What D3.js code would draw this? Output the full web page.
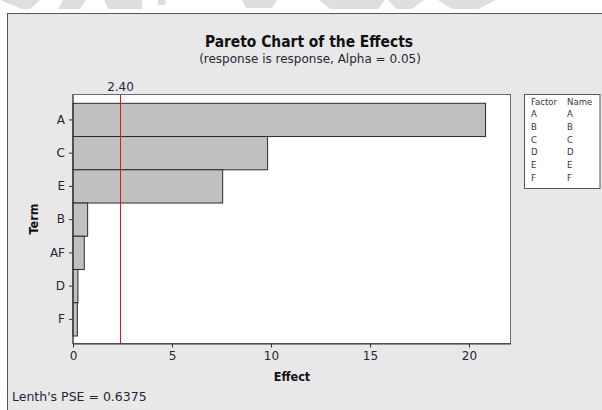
<!DOCTYPE html>
<html>
<head>
<meta charset="utf-8">
<script src="https://cdn.jsdelivr.net/npm/d3@7"></script>
<style>
  html, body { margin: 0; padding: 0; background: #ffffff; }
  svg { display: block; }
</style>
</head>
<body>
<svg id="chart" width="602" height="410" font-family="DejaVu Sans, sans-serif"></svg>
<script>
// Standardized effects, ordered by magnitude
const terms = ["A", "C", "E", "B", "AF", "D", "F"];
const effects = [20.84, 9.83, 7.56, 0.74, 0.57, 0.25, 0.22];
const xTicks = [0, 5, 10, 15, 20];
const criticalValue = 2.40;
const factors = ["A", "B", "C", "D", "E", "F"];
const factorNames = ["A", "B", "C", "D", "E", "F"];
const lenthPSE = "0.6375";

const svg = d3.select("#chart");
const textColor = "#2a2438";
const bodyFont = "DejaVu Sans, sans-serif";
const narrowFont = "DejaVu Sans Condensed, sans-serif";

// faint banner strip along the very top
const banner = svg.append("g").attr("fill", "#dedede");
[[0, 0, 40, 0, 30, 9, 22, 9], [63, 0, 86, 0, 80, 9, 58, 9], [104, 0, 142, 0, 142, 9, 108, 9],
 [158, 0, 166, 0, 165, 5, 158, 5], [242, 0, 277, 0, 272, 8, 246, 8], [319, 0, 385, 0, 378, 9, 330, 9],
 [388, 0, 424, 0, 412, 9, 396, 9], [438, 0, 496, 0, 478, 9, 452, 9]]
  .forEach(p => banner.append("polygon").attr("points", d3.range(0, 8, 2).map(i => p[i] + "," + p[i + 1]).join(" ")));

// outer panel
svg.append("rect")
  .attr("x", 7.5).attr("y", 13.5).attr("width", 610).attr("height", 420)
  .attr("fill", "#e8e8e8").attr("stroke", "#555").attr("stroke-width", 1);

const plot = { left: 73, right: 510.5, top: 94.5, bottom: 343.5 };

const x = d3.scaleLinear().domain([0, 22.1]).range([plot.left, plot.right]);
const y = d3.scaleBand().domain(terms).range([103.3, 336]).paddingInner(0).paddingOuter(0);

// plot area
svg.append("rect")
  .attr("x", plot.left).attr("y", plot.top)
  .attr("width", plot.right - plot.left).attr("height", plot.bottom - plot.top)
  .attr("fill", "#ffffff").attr("stroke", "#6a6a6a").attr("stroke-width", 1);

// bars
svg.append("g").selectAll("rect")
  .data(terms.map((t, i) => ({ term: t, value: effects[i] })))
  .join("rect")
  .attr("x", x(0))
  .attr("y", d => y(d.term))
  .attr("width", d => x(d.value) - x(0))
  .attr("height", y.bandwidth())
  .attr("fill", "#c0c0c0")
  .attr("stroke", "#2a2a2a")
  .attr("stroke-width", 1);

// reference line at the critical value
svg.append("line")
  .attr("x1", x(criticalValue)).attr("x2", x(criticalValue))
  .attr("y1", plot.top).attr("y2", plot.bottom)
  .attr("stroke", "#e8121a").attr("stroke-width", 1);

svg.append("text")
  .attr("x", x(criticalValue)).attr("y", 91)
  .attr("text-anchor", "middle").attr("font-size", 12).attr("fill", textColor)
  .text(criticalValue.toFixed(2));

// axes
const xAxis = d3.axisBottom(x).tickValues(xTicks).tickSize(4).tickPadding(4).tickSizeOuter(0);
const gx = svg.append("g").attr("transform", `translate(0,${plot.bottom})`).call(xAxis)
  .attr("font-family", bodyFont).attr("font-size", 12);
gx.select(".domain").attr("stroke", "#333");
gx.selectAll(".tick line").attr("stroke", "#333");
gx.selectAll(".tick text").attr("fill", textColor);

const yAxis = d3.axisLeft(y).tickSize(4).tickPadding(4).tickSizeOuter(0);
const gy = svg.append("g").attr("transform", `translate(${plot.left},0)`).call(yAxis)
  .attr("font-family", bodyFont).attr("font-size", 12);
gy.select(".domain").remove();
gy.selectAll(".tick line").attr("stroke", "#333");
gy.selectAll(".tick text").attr("fill", textColor);
svg.append("line")
  .attr("x1", plot.left).attr("x2", plot.left)
  .attr("y1", plot.top).attr("y2", plot.bottom + 0.5)
  .attr("stroke", "#333");

// titles
svg.append("text")
  .attr("x", 309).attr("y", 47).attr("text-anchor", "middle")
  .attr("font-family", narrowFont)
  .attr("font-size", 15.4).attr("font-weight", "bold").attr("fill", "#111")
  .text("Pareto Chart of the Effects");
svg.append("text")
  .attr("x", 310).attr("y", 63).attr("text-anchor", "middle")
  .attr("font-size", 12).attr("fill", textColor)
  .text("(response is response, Alpha = 0.05)");

svg.append("text")
  .attr("x", 292).attr("y", 381).attr("text-anchor", "middle")
  .attr("font-family", narrowFont)
  .attr("font-size", 12.5).attr("font-weight", "bold").attr("fill", "#111")
  .text("Effect");

svg.append("text")
  .attr("transform", "translate(38,219) rotate(-90)")
  .attr("text-anchor", "middle")
  .attr("font-family", narrowFont)
  .attr("font-size", 12.5).attr("font-weight", "bold").attr("fill", "#111")
  .text("Term");

svg.append("text")
  .attr("x", 12).attr("y", 401)
  .attr("font-size", 12.5).attr("fill", textColor)
  .text("Lenth's PSE = " + lenthPSE);

// factor legend
const legend = svg.append("g").attr("font-family", narrowFont).attr("font-size", 9.5).attr("fill", "#3a3448");
legend.append("rect")
  .attr("x", 524.5).attr("y", 94.5).attr("width", 75.5).attr("height", 94)
  .attr("fill", "#ffffff").attr("stroke", "#555");
const rowY = d3.scaleLinear().domain([0, 6]).range([104.5, 180.5]);
legend.append("text").attr("x", 531).attr("y", rowY(0)).text("Factor");
legend.append("text").attr("x", 567).attr("y", rowY(0)).text("Name");
factors.forEach((f, i) => {
  legend.append("text").attr("x", 531).attr("y", rowY(i + 1)).text(f);
  legend.append("text").attr("x", 567).attr("y", rowY(i + 1)).text(factorNames[i]);
});
</script>
</body>
</html>
